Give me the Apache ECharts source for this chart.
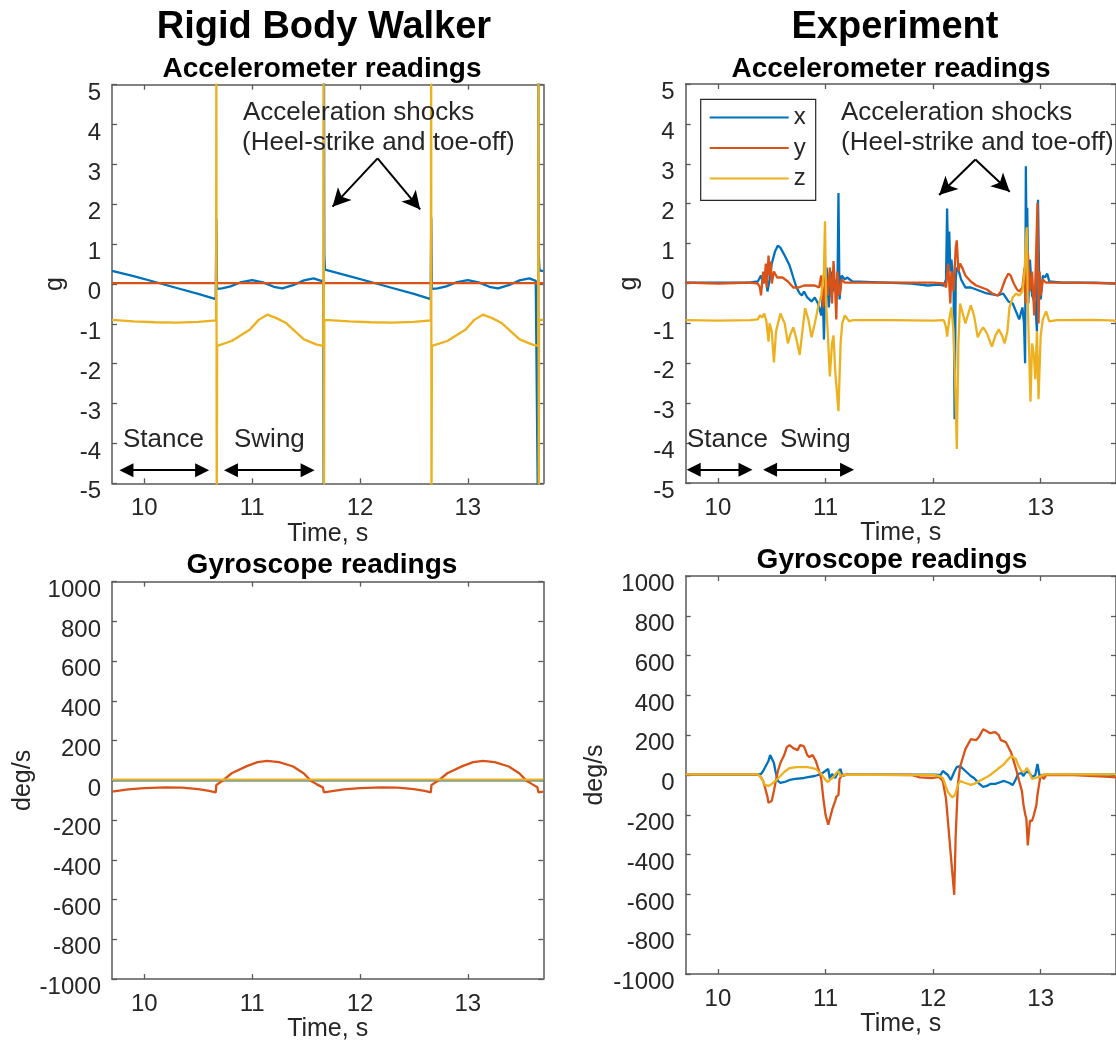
<!DOCTYPE html>
<html>
<head>
<meta charset="utf-8">
<script src="https://cdn.jsdelivr.net/npm/echarts@6/dist/echarts.min.js"></script>
<style>
  html, body { margin: 0; padding: 0; background: #ffffff; }
  #chart { width: 1116px; height: 1043px; }
</style>
</head>
<body>
<div id="chart"></div>
<script>
// ---- Time ticks shared by every panel ----
const timeTicks = [10, 11, 12, 13];

// ---- Rigid body walker: accelerometer [time s, g] ----
const walkerAccX = [[9.7,0.33],[9.9,0.2],[10.1,0.05],[10.3,-0.1],[10.5,-0.25],[10.662,-0.38],[10.668,1.65],[10.674,-0.12],[10.72,-0.11],[10.8,-0.06],[10.9,0.05],[11.0,0.1],[11.1,0.04],[11.2,-0.07],[11.28,-0.11],[11.38,-0.03],[11.48,0.09],[11.57,0.14],[11.64,0.08],[11.66,0.09],[11.663,-6],[11.666,6],[11.669,0.75],[11.675,0.36],[11.9,0.2],[12.1,0.05],[12.3,-0.1],[12.5,-0.25],[12.655,-0.38],[12.661,1.65],[12.667,-0.12],[12.72,-0.11],[12.8,-0.06],[12.9,0.05],[13.0,0.1],[13.1,0.04],[13.2,-0.07],[13.28,-0.11],[13.38,-0.03],[13.48,0.09],[13.57,0.14],[13.63,0.08],[13.648,0.09],[13.651,-6],[13.654,6],[13.657,0.75],[13.665,0.34],[13.7,0.32]];
const walkerAccY = [[9.7,0.02],[10.2,0.02],[10.7,0.02],[11.2,0.02],[11.7,0.02],[12.2,0.02],[12.7,0.02],[13.2,0.02],[13.7,0.02]];
const walkerAccZ = [[9.7,-0.9],[9.9,-0.94],[10.1,-0.96],[10.3,-0.97],[10.5,-0.95],[10.665,-0.91],[10.668,6],[10.671,-6],[10.675,-1.55],[10.81,-1.43],[10.98,-1.14],[11.06,-0.9],[11.14,-0.77],[11.22,-0.85],[11.31,-0.97],[11.48,-1.39],[11.6,-1.52],[11.66,-1.55],[11.663,6],[11.666,-6],[11.669,-0.9],[11.9,-0.94],[12.1,-0.96],[12.3,-0.97],[12.5,-0.95],[12.657,-0.91],[12.66,6],[12.663,-6],[12.667,-1.55],[12.81,-1.43],[12.98,-1.14],[13.06,-0.9],[13.14,-0.77],[13.22,-0.85],[13.31,-0.97],[13.48,-1.39],[13.6,-1.52],[13.652,-1.55],[13.655,6],[13.658,-6],[13.661,-0.9],[13.7,-0.9]];

// ---- Rigid body walker: gyroscope [time s, deg/s] ----
const walkerGyroX = [[9.7,0],[10.7,0],[11.7,0],[12.7,0],[13.7,0]];
const walkerGyroY = [[9.7,-56],[9.85,-45],[10.0,-39],[10.2,-35],[10.35,-36],[10.5,-44],[10.6,-53],[10.662,-60],[10.668,-23],[10.73,0],[10.81,36],[10.95,72],[11.05,92],[11.14,98],[11.25,92],[11.38,70],[11.48,35],[11.54,0],[11.6,-20],[11.655,-35],[11.665,-60],[11.85,-45],[12.0,-39],[12.2,-35],[12.35,-36],[12.5,-44],[12.6,-53],[12.657,-60],[12.663,-23],[12.73,0],[12.81,36],[12.95,72],[13.05,92],[13.14,98],[13.25,92],[13.38,70],[13.48,35],[13.54,0],[13.6,-20],[13.645,-35],[13.655,-60],[13.7,-57]];
const walkerGyroZ = [[9.7,4],[10.7,4],[11.7,4],[12.7,4],[13.7,4]];

// ---- Experiment: accelerometer [time s, g] ----
const expAccX = [[9.7,0.02],[10.0,0.02],[10.3,0.03],[10.37,0.05],[10.4,0.2],[10.42,0.0],[10.44,0.25],[10.46,-0.2],[10.48,0.1],[10.5,0.5],[10.53,0.8],[10.557,0.95],[10.58,0.9],[10.62,0.7],[10.666,0.45],[10.7,0.15],[10.73,-0.1],[10.76,-0.25],[10.78,-0.3],[10.8,-0.2],[10.83,-0.35],[10.87,-0.45],[10.9,-0.35],[10.93,-0.5],[10.96,-0.8],[10.975,-0.3],[10.985,-1.4],[10.995,-0.2],[11.01,0.4],[11.03,-0.6],[11.05,0.3],[11.07,-0.2],[11.09,0.1],[11.11,-0.3],[11.12,2.27],[11.13,-0.4],[11.15,0.2],[11.18,0.1],[11.2,0.15],[11.25,0.05],[11.5,0.03],[11.8,0.0],[11.95,-0.05],[12.05,-0.03],[12.1,-0.05],[12.12,0.1],[12.13,1.88],[12.14,0.4],[12.15,1.3],[12.16,0.3],[12.17,0.6],[12.19,0.0],[12.2,-3.4],[12.21,0.1],[12.22,0.4],[12.24,0.3],[12.26,0.1],[12.3,-0.1],[12.35,-0.1],[12.4,-0.15],[12.5,-0.25],[12.6,-0.3],[12.65,-0.25],[12.7,-0.45],[12.74,-0.5],[12.77,-0.7],[12.8,-0.9],[12.83,-0.6],[12.845,-1.0],[12.855,-2.0],[12.862,2.94],[12.87,0.5],[12.875,1.9],[12.885,-0.5],[12.9,0.6],[12.92,-0.3],[12.95,-0.5],[12.965,-1.2],[12.975,2.1],[12.985,0.2],[13.0,-0.4],[13.02,0.2],[13.04,0.15],[13.06,0.25],[13.08,0.05],[13.2,0.02],[13.5,0.02],[13.7,0.0]];
const expAccY = [[9.7,0.02],[10.0,0.0],[10.3,0.02],[10.37,0.0],[10.39,-0.1],[10.4,-0.3],[10.42,0.3],[10.43,0.0],[10.445,0.5],[10.455,-0.1],[10.47,0.7],[10.48,0.2],[10.49,0.55],[10.5,0.0],[10.52,0.3],[10.55,0.15],[10.6,0.15],[10.65,0.05],[10.7,-0.1],[10.75,-0.1],[10.8,-0.05],[10.85,-0.05],[10.9,-0.05],[10.94,-0.1],[10.96,0.2],[10.98,-0.6],[11.0,0.3],[11.02,-0.3],[11.04,0.4],[11.06,-0.5],[11.074,0.56],[11.09,-0.2],[11.1,-0.9],[11.11,0.3],[11.13,-0.3],[11.15,0.1],[11.18,0.02],[11.5,0.02],[12.0,0.02],[12.1,0.0],[12.12,-0.1],[12.14,0.5],[12.16,-0.5],[12.17,0.3],[12.19,-0.2],[12.21,0.9],[12.22,1.08],[12.235,0.3],[12.25,0.5],[12.27,0.4],[12.3,0.2],[12.35,0.05],[12.4,-0.05],[12.45,-0.1],[12.5,-0.15],[12.55,-0.25],[12.6,-0.3],[12.63,-0.2],[12.67,0.1],[12.7,0.25],[12.72,0.2],[12.75,0.0],[12.78,-0.15],[12.8,-0.2],[12.83,-0.1],[12.85,0.4],[12.86,-0.5],[12.88,0.8],[12.9,-0.2],[12.92,0.3],[12.94,-0.8],[12.955,0.5],[12.97,2.02],[12.98,-1.0],[12.99,0.3],[13.0,-0.3],[13.02,0.1],[13.05,0.02],[13.3,0.02],[13.7,0.0]];
const expAccZ = [[9.7,-0.92],[10.0,-0.93],[10.3,-0.92],[10.37,-0.9],[10.39,-0.8],[10.41,-0.85],[10.43,-0.75],[10.45,-0.95],[10.47,-1.46],[10.48,-1.0],[10.5,-1.2],[10.52,-1.98],[10.54,-1.2],[10.58,-0.75],[10.62,-1.0],[10.65,-1.5],[10.67,-1.3],[10.7,-1.1],[10.73,-1.4],[10.76,-1.79],[10.78,-1.3],[10.81,-0.62],[10.84,-0.9],[10.87,-1.35],[10.9,-1.0],[10.93,-0.6],[10.96,-0.3],[10.985,0.3],[10.995,1.56],[11.005,-0.5],[11.02,-1.2],[11.04,-2.33],[11.06,-1.5],[11.074,-1.3],[11.09,-2.2],[11.12,-3.2],[11.14,-1.5],[11.155,-1.0],[11.18,-0.8],[11.22,-0.95],[11.25,-0.92],[11.6,-0.92],[12.0,-0.93],[12.1,-0.92],[12.12,-1.1],[12.13,-1.33],[12.15,-0.9],[12.17,-0.6],[12.19,-1.2],[12.21,-3.0],[12.22,-4.15],[12.235,-1.5],[12.25,-0.5],[12.3,-1.0],[12.35,-0.55],[12.38,-0.8],[12.415,-1.35],[12.44,-1.2],[12.465,-1.1],[12.5,-1.25],[12.546,-1.58],[12.58,-1.3],[12.61,-1.15],[12.64,-1.3],[12.665,-1.5],[12.69,-1.2],[12.71,-0.6],[12.74,-0.35],[12.77,-0.25],[12.8,-0.3],[12.83,-0.2],[12.85,0.3],[12.87,1.41],[12.88,-0.5],[12.905,-2.96],[12.92,-1.5],[12.937,-1.8],[12.95,-2.4],[12.965,-1.2],[12.98,-2.9],[13.0,-1.3],[13.02,-0.9],[13.05,-0.7],[13.08,-0.95],[13.15,-0.92],[13.5,-0.91],[13.7,-0.93]];

// ---- Experiment: gyroscope [time s, deg/s] ----
const expGyroX = [[9.7,2],[10.37,2],[10.4,5],[10.42,20],[10.469,70],[10.485,100],[10.5,110],[10.52,60],[10.534,20],[10.557,-30],[10.58,-40],[10.62,-35],[10.666,-25],[10.72,-20],[10.8,-15],[10.85,-10],[10.9,-5],[10.96,5],[10.985,15],[11.0,20],[11.025,30],[11.04,-20],[11.06,5],[11.09,-15],[11.12,20],[11.14,30],[11.155,-5],[11.17,5],[11.2,2],[12.0,2],[12.07,0],[12.09,20],[12.105,30],[12.137,0],[12.164,-25],[12.18,-30],[12.2,20],[12.22,40],[12.25,45],[12.3,20],[12.35,-5],[12.38,-15],[12.43,-45],[12.465,-60],[12.5,-55],[12.53,-45],[12.577,-45],[12.63,-35],[12.66,-30],[12.71,-40],[12.74,-50],[12.77,-20],[12.79,5],[12.82,10],[12.84,-5],[12.86,15],[12.89,15],[12.92,-10],[12.95,0],[12.97,55],[12.99,-5],[13.02,0],[13.05,2],[13.7,2]];
const expGyroY = [[9.7,3],[10.3,3],[10.37,2],[10.39,-5],[10.42,-30],[10.436,-60],[10.46,-110],[10.469,-140],[10.485,-135],[10.5,-130],[10.52,-80],[10.534,-40],[10.557,20],[10.58,60],[10.616,100],[10.64,140],[10.666,150],[10.7,135],[10.74,125],[10.764,150],[10.78,160],[10.797,145],[10.81,130],[10.83,100],[10.85,90],[10.88,100],[10.91,70],[10.94,20],[10.96,-20],[10.98,-120],[11.0,-200],[11.025,-250],[11.04,-220],[11.064,-170],[11.09,-130],[11.1,-110],[11.12,-100],[11.13,-20],[11.14,-10],[11.155,0],[11.2,2],[11.8,0],[11.876,-12],[12.0,-15],[12.056,-10],[12.09,-30],[12.12,-120],[12.164,-400],[12.196,-602],[12.21,-300],[12.23,-50],[12.25,40],[12.3,130],[12.35,180],[12.4,175],[12.43,195],[12.465,230],[12.5,220],[12.53,210],[12.577,215],[12.61,200],[12.63,175],[12.676,165],[12.7,140],[12.727,110],[12.76,50],[12.776,20],[12.8,-30],[12.825,-80],[12.84,-150],[12.857,-200],[12.867,-220],[12.88,-354],[12.9,-230],[12.92,-230],[12.937,-200],[12.96,-150],[12.97,-100],[12.99,-30],[13.0,0],[13.03,-20],[13.05,0],[13.3,0],[13.6,-8],[13.7,-12]];
const expGyroZ = [[9.7,3],[10.37,3],[10.4,-10],[10.436,-50],[10.469,-55],[10.5,-45],[10.534,-30],[10.58,-5],[10.616,15],[10.666,35],[10.73,40],[10.83,40],[10.88,35],[10.91,30],[10.94,15],[10.96,5],[11.0,-25],[11.025,-35],[11.05,-20],[11.074,-10],[11.1,10],[11.12,20],[11.14,-5],[11.155,-10],[11.18,0],[11.25,2],[12.0,0],[12.056,-5],[12.09,-15],[12.12,-60],[12.137,-85],[12.177,-112],[12.196,-105],[12.21,-90],[12.23,-50],[12.25,-30],[12.3,-40],[12.35,-50],[12.38,-45],[12.43,-30],[12.5,-10],[12.53,0],[12.6,30],[12.66,55],[12.69,75],[12.727,95],[12.745,100],[12.77,80],[12.79,50],[12.82,20],[12.85,15],[12.87,35],[12.89,20],[12.92,-20],[12.95,-15],[12.99,-10],[13.02,0],[13.05,3],[13.7,3]];

// ---- Styling ----
const FONT = '"Liberation Sans", Arial, Helvetica, sans-serif';
const INK = '#262626';
const FRAME = '#5a5a5a';
const COLORS = { x: '#0072BD', y: '#D95319', z: '#EDB120' };

const grids = [
  { left: 112,   top: 84.7,  width: 431.3, height: 398.6 }, // walker accel
  { left: 685.7, top: 84,    width: 433,   height: 399 },   // experiment accel
  { left: 112,   top: 581.7, width: 431.3, height: 397.6 }, // walker gyro
  { left: 685.7, top: 576,   width: 433,   height: 398 }    // experiment gyro
];

function timeAxes(g) {
  const common = {
    type: 'value', gridIndex: g, min: 9.7, max: 13.7,
    splitLine: { show: false },
    axisLine: { onZero: false, lineStyle: { color: FRAME, width: 1.5 } },
    axisTick: { inside: true, length: 5, customValues: timeTicks, lineStyle: { color: FRAME, width: 1.3 } }
  };
  return [
    Object.assign({}, common, {
      position: 'bottom',
      axisLabel: { customValues: timeTicks, fontSize: 24, color: INK, fontFamily: FONT, margin: 13 },
      name: 'Time, s', nameLocation: 'middle', nameGap: 34,
      nameTextStyle: { fontSize: 25, color: INK, fontFamily: FONT }
    }),
    Object.assign({}, common, { position: 'top', axisLabel: { show: false } })
  ];
}

function valueAxes(g, min, max, step, name, gap) {
  const common = {
    type: 'value', gridIndex: g, min: min, max: max, interval: step,
    splitLine: { show: false },
    axisLine: { onZero: false, lineStyle: { color: FRAME, width: 1.5 } },
    axisTick: { inside: true, length: 5, lineStyle: { color: FRAME, width: 1.3 } }
  };
  return [
    Object.assign({}, common, {
      position: 'left',
      axisLabel: {
        fontSize: 24, color: INK, fontFamily: FONT, margin: 11,
        verticalAlign: 'top', lineHeight: 17,
        formatter: function (v) { return String(v); }
      },
      name: name, nameLocation: 'middle', nameGap: gap,
      nameTextStyle: { fontSize: 25, color: INK, fontFamily: FONT }
    }),
    Object.assign({}, common, { position: 'right', axisLabel: { show: false } })
  ];
}

const xAxis = [].concat(timeAxes(0), timeAxes(1), timeAxes(2), timeAxes(3));
const yAxis = [].concat(
  valueAxes(0, -5, 5, 1, 'g', 44),
  valueAxes(1, -5, 5, 1, 'g', 44),
  valueAxes(2, -1000, 1000, 200, 'deg/s', 60),
  valueAxes(3, -1000, 1000, 200, 'deg/s', 78)
);

function trace(name, data, g) {
  return {
    name: name, type: 'line', data: data, xAxisIndex: 2 * g, yAxisIndex: 2 * g,
    symbol: 'none', clip: true, silent: true,
    lineStyle: { color: COLORS[name], width: 2.3 },
    itemStyle: { color: COLORS[name] },
    emphasis: { disabled: true }
  };
}

// Annotation arrows, placed in each panel's own data coordinates
const arrowStyle = { color: '#000000', width: 2, type: 'solid' };
function shockArrows(apex, leftTip, rightTip) {
  return {
    silent: true, symbol: ['none', 'arrow'], symbolSize: [14, 18],
    lineStyle: arrowStyle, label: { show: false }, emphasis: { disabled: true },
    data: [[{ coord: apex }, { coord: leftTip }], [{ coord: apex }, { coord: rightTip }]]
  };
}
function phaseArrows(stance, swing, level) {
  return {
    silent: true, symbol: ['triangle', 'triangle'], symbolSize: [14, 14],
    lineStyle: arrowStyle, label: { show: false }, emphasis: { disabled: true },
    data: [
      [{ coord: [stance[0], level] }, { coord: [stance[1], level] }],
      [{ coord: [swing[0], level] }, { coord: [swing[1], level] }]
    ]
  };
}

const s0x = trace('x', walkerAccX, 0);
s0x.markLine = shockArrows([12.163, 3.15], [11.745, 1.94], [12.558, 1.87]);
const s0y = trace('y', walkerAccY, 0);
s0y.markLine = phaseArrows([9.834, 10.536], [10.803, 11.514], -4.67);

const s1x = trace('x', expAccX, 1);
s1x.markLine = shockArrows([12.393, 3.11], [12.056, 2.22], [12.712, 2.30]);
const s1y = trace('y', expAccY, 1);
s1y.markLine = phaseArrows([9.774, 10.256], [10.484, 11.2], -4.67);

const series = [
  s0x, s0y, trace('z', walkerAccZ, 0),
  s1x, s1y, trace('z', expAccZ, 1),
  trace('x', walkerGyroX, 2), trace('y', walkerGyroY, 2), trace('z', walkerGyroZ, 2),
  trace('x', expGyroX, 3), trace('y', expGyroY, 3), trace('z', expGyroZ, 3)
];

function label(text, x, y, size, weight, align, fill) {
  return {
    type: 'text', x: x, y: y, silent: true, z: 100,
    style: { text: text, font: weight + ' ' + size + 'px ' + FONT, fill: fill || INK,
             align: align || 'center', verticalAlign: 'middle' }
  };
}

const graphic = [
  label('Rigid Body Walker', 324, 28, 38, 'bold', 'center', '#000'),
  label('Experiment', 895, 28, 38, 'bold', 'center', '#000'),
  label('Accelerometer readings', 322, 69, 28, 'bold', 'center', '#000'),
  label('Accelerometer readings', 891, 69, 28, 'bold', 'center', '#000'),
  label('Gyroscope readings', 322, 565, 28, 'bold', 'center', '#000'),
  label('Gyroscope readings', 892, 560, 28, 'bold', 'center', '#000'),
  label('Acceleration shocks', 243, 113, 26, 'normal', 'left'),
  label('(Heel-strike and toe-off)', 242, 143, 26, 'normal', 'left'),
  label('Acceleration shocks', 841, 113, 26, 'normal', 'left'),
  label('(Heel-strike and toe-off)', 841, 143, 26, 'normal', 'left'),
  label('Stance', 123, 440, 26, 'normal', 'left'),
  label('Swing', 234, 440, 26, 'normal', 'left'),
  label('Stance', 687, 440, 26, 'normal', 'left'),
  label('Swing', 780, 440, 26, 'normal', 'left')
];

const chart = echarts.init(document.getElementById('chart'), null, { renderer: 'canvas' });
chart.setOption({
  animation: false,
  backgroundColor: '#ffffff',
  textStyle: { fontFamily: FONT },
  grid: grids,
  xAxis: xAxis,
  yAxis: yAxis,
  legend: {
    data: ['x', 'y', 'z'], orient: 'vertical', left: 700.7, top: 99.3,
    itemWidth: 79, itemHeight: 14, itemGap: 6.4, padding: [6.3, 10, 10, 8],
    borderColor: INK, borderWidth: 1.2, backgroundColor: '#ffffff',
    selectedMode: false,
    itemStyle: { opacity: 0 },
    textStyle: { fontSize: 24, color: INK, fontFamily: FONT }
  },
  series: series,
  graphic: graphic
});
</script>
</body>
</html>
